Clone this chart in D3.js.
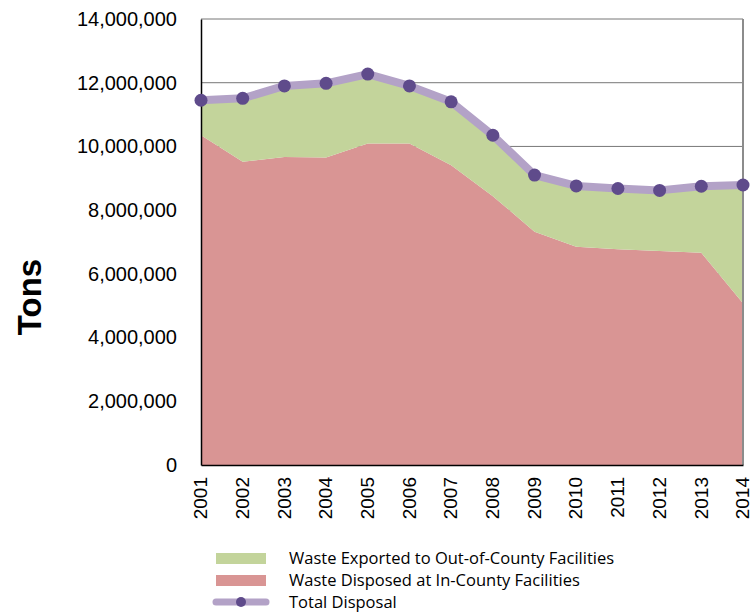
<!DOCTYPE html>
<html>
<head>
<meta charset="utf-8">
<script src="https://cdn.jsdelivr.net/npm/d3@7"></script>
<style>
  body { margin: 0; background: #fff; }
  svg { display: block; }
  .tick text { font-family: "Liberation Sans", Arial, sans-serif; fill: #000; }
</style>
</head>
<body>
<svg id="chart" width="751" height="612"></svg>
<script>
// tons per year
const years = ['2001', '2002', '2003', '2004', '2005', '2006', '2007',
               '2008', '2009', '2010', '2011', '2012', '2013', '2014'];
const inCounty = [10350000, 9520000, 9670000, 9650000, 10090000, 10090000, 9410000,
                  8440000, 7320000, 6850000, 6770000, 6720000, 6660000, 5080000];
const exported = [1100000, 1990000, 2230000, 2330000, 2180000, 1810000, 1990000,
                  1910000, 1780000, 1910000, 1910000, 1900000, 2090000, 3710000];
const yTicks = [0, 2000000, 4000000, 6000000, 8000000, 10000000, 12000000, 14000000];
const legendLabels = ['Waste Exported to Out-of-County Facilities',
                      'Waste Disposed at In-County Facilities',
                      'Total Disposal'];

const colors = { exported: '#c3d49b', inCounty: '#d99594', line: '#b3a2c7', dot: '#5f4b8b' };

const svg = d3.select('svg#chart');
const margin = { top: 19, right: 8, bottom: 147, left: 201 };
const width = +svg.attr('width') - margin.left - margin.right;
const height = +svg.attr('height') - margin.top - margin.bottom;
const g = svg.append('g').attr('transform', 'translate(' + margin.left + ',' + margin.top + ')');

const rows = years.map((yr, i) => ({ year: yr, inCounty: inCounty[i], exported: exported[i] }));
const series = d3.stack().keys(['inCounty', 'exported'])(rows);

const x = d3.scalePoint().domain(years).range([0, width]);
const y = d3.scaleLinear().domain([0, 14000000]).range([height, 0]);

// gridlines
g.append('g')
  .selectAll('line')
  .data(yTicks.filter(d => d > 0))
  .enter().append('line')
    .attr('x1', 0).attr('x2', width)
    .attr('y1', d => y(d)).attr('y2', d => y(d))
    .attr('stroke', '#777').attr('stroke-width', 1);

// stacked areas
const area = d3.area()
  .x((d, i) => x(years[i]))
  .y0(d => y(d[0]))
  .y1(d => y(d[1]));

g.selectAll('.area')
  .data(series)
  .enter().append('path')
    .attr('class', 'area')
    .attr('d', area)
    .attr('fill', d => colors[d.key]);

// right frame
g.append('line')
  .attr('x1', width).attr('x2', width).attr('y1', 0).attr('y2', height)
  .attr('stroke', '#8c8c8c').attr('stroke-width', 2);

// axes
const yAxis = g.append('g')
  .call(d3.axisLeft(y).tickValues(yTicks).tickFormat(d3.format(',')).tickSize(0).tickPadding(24));
yAxis.select('.domain').attr('stroke', '#000').attr('stroke-width', 1.5);
yAxis.selectAll('.tick text').attr('font-size', 20);

const xAxis = g.append('g')
  .attr('transform', 'translate(0,' + height + ')')
  .call(d3.axisBottom(x).tickSize(0));
xAxis.select('.domain').attr('stroke', '#000').attr('stroke-width', 1.5);
xAxis.selectAll('.tick text')
  .attr('font-size', 19)
  .attr('transform', 'rotate(-90)')
  .attr('text-anchor', 'end')
  .attr('x', -12)
  .attr('y', 0)
  .attr('dy', '0.3em');

// total line with markers
const totals = series[1];
const line = d3.line().x((d, i) => x(years[i])).y(d => y(d[1]));
g.append('path')
  .datum(totals)
  .attr('d', line)
  .attr('fill', 'none')
  .attr('stroke', colors.line)
  .attr('stroke-width', 8)
  .attr('stroke-linejoin', 'round');

g.selectAll('.dot')
  .data(totals)
  .enter().append('circle')
    .attr('class', 'dot')
    .attr('cx', (d, i) => x(years[i]))
    .attr('cy', d => y(d[1]))
    .attr('r', 6.5)
    .attr('fill', colors.dot);

// y title
svg.append('text')
  .attr('transform', 'translate(41,297) rotate(-90)')
  .attr('text-anchor', 'middle')
  .attr('font-family', '"Liberation Sans", Arial, sans-serif')
  .attr('font-weight', 'bold')
  .attr('font-size', 33)
  .text('Tons');

// legend
const legend = svg.append('g').attr('transform', 'translate(216,558)');
legendLabels.forEach((label, i) => {
  const row = legend.append('g').attr('transform', 'translate(0,' + i * 22 + ')');
  if (i < 2) {
    row.append('rect')
      .attr('x', 0).attr('y', -5).attr('width', 50).attr('height', 11)
      .attr('fill', i === 0 ? colors.exported : colors.inCounty);
  } else {
    row.append('line')
      .attr('x1', 0).attr('x2', 50).attr('y1', 0).attr('y2', 0)
      .attr('stroke', colors.line).attr('stroke-width', 7).attr('stroke-linecap', 'round');
    row.append('circle').attr('cx', 25).attr('cy', 0).attr('r', 5).attr('fill', colors.dot);
  }
  row.append('text')
    .attr('x', 73)
    .attr('y', 5.5)
    .attr('font-family', '"Open Sans", Lato, sans-serif')
    .attr('font-size', 16.5)
    .attr('fill', '#000')
    .text(label);
});
</script>
</body>
</html>
